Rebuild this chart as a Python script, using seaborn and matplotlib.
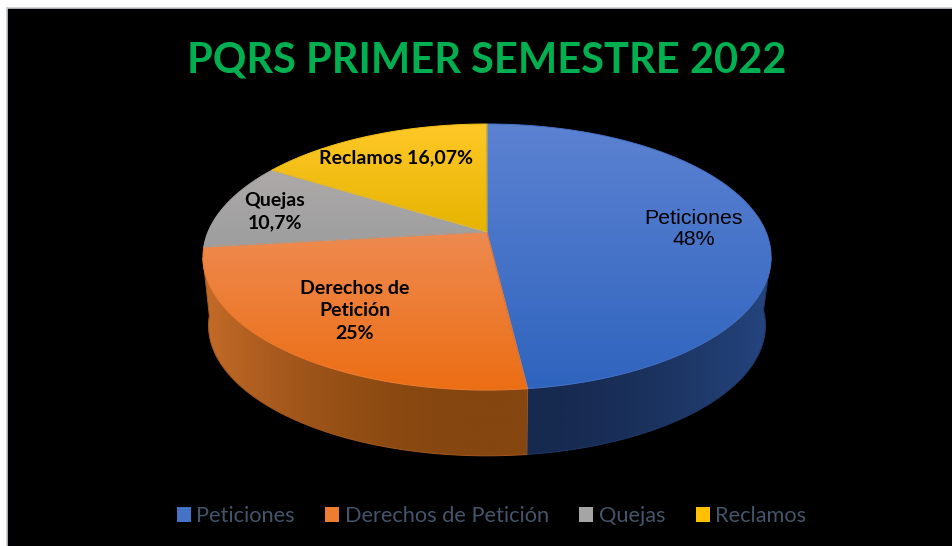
import matplotlib
matplotlib.use('Agg')
import matplotlib.pyplot as plt
import numpy as np
import seaborn as sns
from matplotlib.patches import Patch, Polygon

# Data
categories = ['Peticiones', 'Derechos de Petición', 'Quejas', 'Reclamos']
values = [48, 25, 10.7, 16.07]
slice_labels = ['Peticiones\n48%', 'Derechos de\nPetición\n25%', 'Quejas\n10,7%', 'Reclamos 16,07%']
title = 'PQRS PRIMER SEMESTRE 2022'

# Colours: legend, top face gradient (top, bottom), side gradient (middle, edge)
base_colors = ['#4472C4', '#ED7D31', '#A5A5A5', '#FFC000']
top_colors = [('#5C82D2', '#2F64BE'), ('#EE8A50', '#EC6E14'), ('#ADA9A9', '#9E9E9E'), ('#FFC828', '#E6B400')]
side_colors = [('#16294E', '#25457F'), ('#85460F', '#C36A28'), ('#555555', '#777777'), ('#806000', '#A08000')]
label_xy = [(694, 229), (355, 311), (275, 212), (396, 158)]

sns.set_theme(style='white')
fig = plt.figure(figsize=(9.52, 5.46), dpi=100, facecolor='white')
ax = fig.add_axes([7 / 952, 0, 945 / 952, 1 - 8 / 546])

# The pie gives the slice angles, the faces are then drawn in perspective
wedges, _ = ax.pie(values, startangle=90, counterclock=False)
for w in wedges:
    w.set_visible(False)

ax.set_aspect('auto')
ax.set_frame_on(True)
ax.set_facecolor('black')
for name, spine in ax.spines.items():
    spine.set_visible(name in ('left', 'top'))
    spine.set_color('#C8CCD0')
    spine.set_linewidth(1.2)


def project(angles, cx, cy, sx, k, a=0.188):
    # angles in degrees counterclockwise from the x axis, as in the pie
    x = np.cos(np.radians(angles))
    y = np.sin(np.radians(angles))
    w = 1 + a * y
    return cx + sx * x / w, cy - k * y / w


TOP = dict(cx=487, cy=232, sx=279, k=128.3)
BOTTOM = dict(cx=487, cy=301, sx=273.5, k=125.7)


def gradient(xy, grad, colors, z):
    # image of a gradient cut to the outline xy
    im = ax.imshow(grad, extent=(xy[:, 0].min(), xy[:, 0].max(), xy[:, 1].max(), xy[:, 1].min()),
                   aspect='auto', interpolation='bilinear', zorder=z)
    edge = Polygon(xy, closed=True, facecolor='none', linewidth=0.7, zorder=z + 0.5,
                   edgecolor=sns.blend_palette(colors, 3)[1])
    ax.add_patch(edge)
    im.set_clip_path(edge)


# Side of the cylinder, only the front part shows
for i, w in enumerate(wedges):
    lo, hi = max(w.theta1, -169), min(w.theta2, -11)
    if hi <= lo:
        continue
    # the outline runs from silhouette to silhouette of both discs
    xt, yt = project(np.linspace(lo, hi, 200), **TOP)
    xb, yb = project(np.linspace(min(w.theta2, -4), max(w.theta1, -176), 200), **BOTTOM)
    xy = np.column_stack([np.r_[xt, xb], np.r_[yt, yb]])
    ramp = np.array(sns.blend_palette(side_colors[i], 101))
    xpix = np.linspace(xy[:, 0].min(), xy[:, 0].max(), 200)
    shade = np.clip(np.abs(xpix - TOP['cx']) / TOP['sx'], 0, 1) ** 2
    gradient(xy, ramp[(shade * 100).astype(int)][None, :, :], side_colors[i], 2)

# Top faces, each with its own vertical gradient
for i, w in enumerate(wedges):
    angles = np.linspace(w.theta1, w.theta2, 300)
    xs, ys = project(angles, **TOP)
    xy = np.column_stack([np.r_[TOP['cx'], xs], np.r_[TOP['cy'], ys]])
    gradient(xy, np.array(sns.blend_palette(top_colors[i], 64))[:, None, :], top_colors[i], 3)

ax.set_xlim(7, 952)
ax.set_ylim(546, 8)
ax.set_xticks([])
ax.set_yticks([])

# Labels on the slices
ax.text(label_xy[0][0], label_xy[0][1], slice_labels[0], ha='center', va='center', color='black',
        family='Liberation Sans', fontsize=15.4, linespacing=1.1, zorder=5)
for i in (1, 2, 3):
    ax.text(label_xy[i][0], label_xy[i][1], slice_labels[i], ha='center', va='center', color='black',
            family='Lato', fontweight='bold', fontsize=14, linespacing=1.38, zorder=5)

fig.text(487 / 952, 1 - 61 / 546, title, ha='center', va='center', color='#00B050',
         family='Lato', fontweight='bold', fontsize=30)

handles = [Patch(facecolor=c, edgecolor='none', label=n) for c, n in zip(base_colors, categories)]
leg = ax.legend(handles=handles, loc='center', bbox_to_anchor=(491.5 / 952, 1 - 516 / 546),
                bbox_transform=fig.transFigure, ncol=4, frameon=False,
                handlelength=0.64, handleheight=0.64, handletextpad=0.25, columnspacing=1.4,
                prop={'family': 'Lato', 'size': 15.7})
for text in leg.get_texts():
    text.set_color('#44546A')

fig.savefig('out.png', dpi=100, facecolor=fig.get_facecolor())
